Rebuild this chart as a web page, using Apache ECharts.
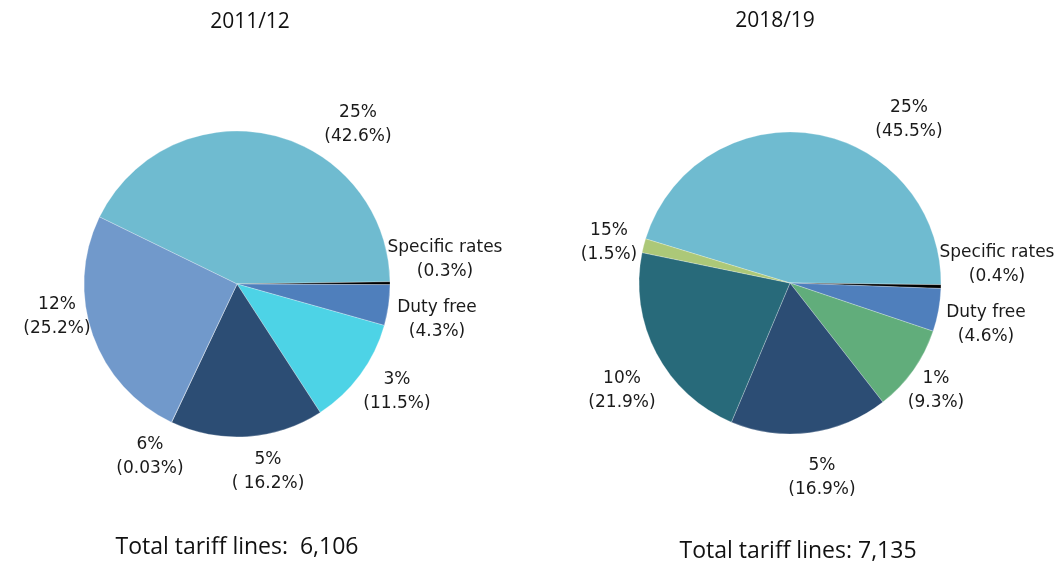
<!DOCTYPE html>
<html>
<head>
<meta charset="utf-8">
<style>
    html, body { margin: 0; padding: 0; overflow: hidden; background: #fff; }
</style>
</head>
<body>
<div id="pie" style="width:1062px; height:566px;"></div>
<script src="https://cdn.jsdelivr.net/npm/echarts@6/dist/echarts.min.js"></script>
<script>
    // 2011/12 tariff structure
    var cats2011 = ['25%', 'Specific rates', 'Duty free', '3%', '5%', '6%', '12%'];
    var vals2011 = [42.6, 0.3, 4.3, 11.5, 16.2, 0.03, 25.2];
    var text2011 = ['(42.6%)', '(0.3%)', '(4.3%)', '(11.5%)', '( 16.2%)', '(0.03%)', '(25.2%)'];
    var total2011 = '6,106';

    // 2018/19 tariff structure
    var cats2018 = ['25%', 'Specific rates', 'Duty free', '1%', '5%', '10%', '15%'];
    var vals2018 = [45.5, 0.4, 4.6, 9.3, 16.9, 21.9, 1.5];
    var text2018 = ['(45.5%)', '(0.4%)', '(4.6%)', '(9.3%)', '(16.9%)', '(21.9%)', '(1.5%)'];
    var total2018 = '7,135';

    var colors = {
        '25%': '#6fbbd0', 'Specific rates': '#000000', 'Duty free': '#4f7fbc',
        '3%': '#4dd3e6', '5%': '#2c4d74', '6%': '#7199cb', '12%': '#7199cb',
        '1%': '#61ad7b', '10%': '#286a7a', '15%': '#acc878'
    };

    // label centres, [x, y] on the page
    var labelAt = [
        [[358, 125], [445, 260], [437, 320], [397, 392], [268, 472], [150, 457], [57, 317]],
        [[909, 120], [997, 265], [986, 325], [936, 391], [822, 478], [622, 391], [609, 243]]
    ];

    function makeData(cats, vals, texts) {
        return cats.map(function (c, i) {
            return {name: c, value: vals[i], sub: texts[i], itemStyle: {color: colors[c]}};
        });
    }

    function pieSeries(idx, cats, vals, texts, center, radius, start) {
        return {
            type: 'pie',
            center: center,
            radius: radius,
            startAngle: start,
            clockwise: true,
            animation: false,
            silent: true,
            itemStyle: {borderColor: 'rgba(255,255,255,0.5)', borderWidth: 0.5},
            label: {
                show: true,
                position: 'outside',
                overflow: 'none',
                fontFamily: 'DejaVu Sans',
                fontSize: 17,
                lineHeight: 24,
                color: '#1a1a1a',
                align: 'center',
                formatter: function (p) { return p.name + '\n' + p.data.sub; }
            },
            labelLine: {show: false},
            labelLayout: function (p) {
                var xy = labelAt[idx][p.dataIndex];
                return {x: xy[0], y: xy[1], align: 'center', verticalAlign: 'middle'};
            },
            data: makeData(cats, vals, texts)
        };
    }

    var chart = echarts.init(document.getElementById('pie'), null, {renderer: 'canvas'});
    var titleFont = {fontFamily: 'Open Sans', fontSize: 21, fontWeight: 'normal', color: '#111'};
    var totalFont = {fontFamily: 'Open Sans', fontSize: 23, fontWeight: 'normal', color: '#111'};
    chart.setOption({
        backgroundColor: '#fff',
        title: [
            {text: '2011/12', left: 245, top: 7, textAlign: 'center', textStyle: titleFont},
            {text: '2018/19', left: 770, top: 6, textAlign: 'center', textStyle: titleFont},
            {text: 'Total tariff lines:  ' + total2011, left: 232, top: 531, textAlign: 'center', textStyle: totalFont},
            {text: 'Total tariff lines: ' + total2018, left: 793, top: 535, textAlign: 'center', textStyle: totalFont}
        ],
        series: [
            pieSeries(0, cats2011, vals2011, text2011, [237, 284], 153, 154),
            pieSeries(1, cats2018, vals2018, text2018, [790, 283], 151, 163)
        ]
    });
</script>
</body>
</html>
